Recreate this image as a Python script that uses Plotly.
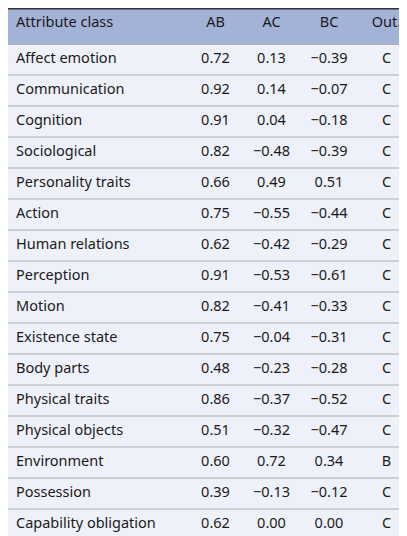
import plotly.graph_objects as go

classes = ["Affect emotion","Communication","Cognition","Sociological","Personality traits","Action",
           "Human relations","Perception","Motion","Existence state","Body parts","Physical traits",
           "Physical objects","Environment","Possession","Capability obligation"]
ab = ["0.72","0.92","0.91","0.82","0.66","0.75","0.62","0.91","0.82","0.75","0.48","0.86","0.51","0.60","0.39","0.62"]
ac = ["0.13","0.14","0.04","\u22120.48","0.49","\u22120.55","\u22120.42","\u22120.53","\u22120.41","\u22120.04","\u22120.23","\u22120.37","\u22120.32","0.72","\u22120.13","0.00"]
bc = ["\u22120.39","\u22120.07","\u22120.18","\u22120.39","0.51","\u22120.44","\u22120.29","\u22120.61","\u22120.33","\u22120.31","\u22120.28","\u22120.52","\u22120.47","0.34","\u22120.12","0.00"]
out = ["C","C","C","C","C","C","C","C","C","C","C","C","C","B","C","C"]
headers = ["Attribute class","AB","AC","BC","Out."]

W, H = 407, 536
HH, RH = 36, 31
fig = go.Figure(go.Table(
    columnwidth=[180, 55, 57, 58, 57],
    header=dict(values=headers, fill_color="#a3b3d8", height=HH,
                align=["left","center"], line=dict(color="#a3b3d8", width=1),
                font=dict(family="Noto Sans", size=14.5, color="#1a1a1a")),
    cells=dict(values=[classes, ab, ac, bc, out], fill_color="#eef1f9", height=RH,
               align=["left","center"], line=dict(color="#eef1f9", width=1),
               font=dict(family="Noto Sans", size=14.5, color="#1a1a1a")),
    domain=dict(x=[0,1], y=[0,1])))
shapes = [dict(type="line", xref="paper", yref="paper", x0=0, x1=1, y0=1, y1=1,
               line=dict(color="#333", width=3))]
for i in range(16):
    y = 1 - (HH + i*RH)/H
    shapes.append(dict(type="line", xref="paper", yref="paper", x0=0, x1=1, y0=y, y1=y,
                       line=dict(color="#a9adb8", width=1)))
fig.update_layout(width=W, height=H, margin=dict(l=0,r=0,t=0,b=0), shapes=shapes,
                  paper_bgcolor="#eef1f9")
fig.write_html("out.html")
